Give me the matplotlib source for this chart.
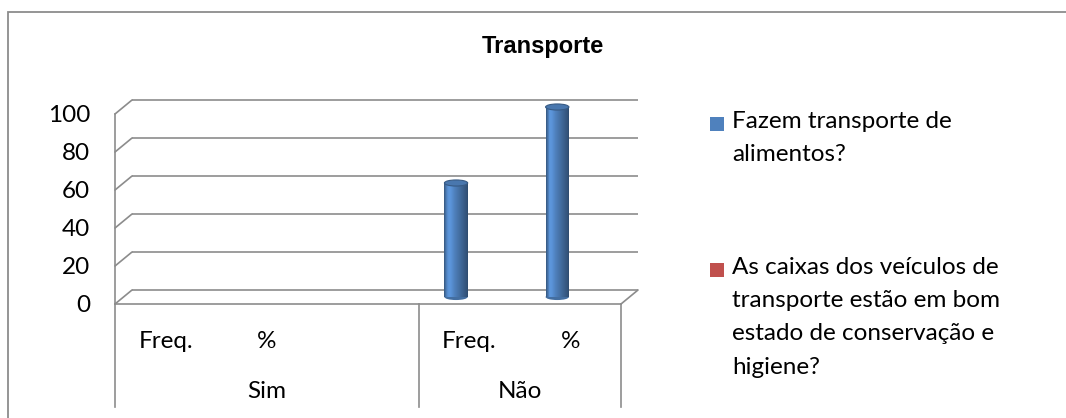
import matplotlib
matplotlib.use("Agg")
import matplotlib.pyplot as plt
from matplotlib.transforms import ScaledTranslation
from matplotlib.patches import Rectangle, Ellipse, ConnectionPatch
import numpy as np

# ---- data ----
title = "Transporte"
categories = ["Freq.", "%", "", "Freq.", "%"]
groups = ["Sim", "Não"]
group_spans = [(0, 3), (3, 5)]
series_names = ["Fazem transporte de\nalimentos?",
                "As caixas dos veículos de\ntransporte estão em bom\nestado de conservação e\nhigiene?"]
series_blue = [0, 0, 0, 60, 100]
series_red = [0, 0, 0, 0, 0]
yticks = [0, 20, 40, 60, 80, 100]

colors = ["#4F81BD", "#C0504D"]
grid_c = "#8C8C8C"
font = ["Lato", "DejaVu Sans"]
plt.rcParams["font.family"] = font
fs = 17.5

W, H = 1066, 418
fig = plt.figure(figsize=(W / 100, H / 100), dpi=100)

# outer chart border (extends past right/bottom)
fig.patches.append(Rectangle((8 / W, -0.1), 1.2, (H - 12) / H + 0.1,
                             transform=fig.transFigure, fill=False,
                             edgecolor=grid_c, lw=1.3))

ax = fig.add_axes([115 / W, (H - 304) / H, 506 / W, 190 / H])
ax.set_xlim(0, len(categories))
ax.set_ylim(0, 100)
for s in ax.spines.values():
    s.set_visible(False)
ax.set_xticks([])
ax.set_yticks(yticks)
ax.set_yticklabels([str(v) for v in yticks])
ax.tick_params(axis="y", length=0, pad=18, labelsize=fs)
ax.patch.set_alpha(0)

back = ax.transData + ScaledTranslation(0.17, 0.14, fig.dpi_scale_trans)
mid = ax.transData + ScaledTranslation(0.0, 0.07, fig.dpi_scale_trans)

lw = 1.2
n = len(categories)
# back wall gridlines + left side diagonals
for v in yticks:
    ax.plot([0, n], [v, v], color=grid_c, lw=lw, transform=back, clip_on=False,
            solid_capstyle="butt")
    cp = ConnectionPatch((0, v), (0, v), coordsA=ax.transData, coordsB=back,
                         color=grid_c, lw=lw)
    fig.add_artist(cp)
# front left vertical axis
ax.plot([0, 0], [0, 100], color=grid_c, lw=lw, clip_on=False)
# floor front edge and right diagonal
ax.plot([0, n], [0, 0], color=grid_c, lw=lw, clip_on=False)
fig.add_artist(ConnectionPatch((n, 0), (n, 0), coordsA=ax.transData, coordsB=back,
                               color=grid_c, lw=lw))

# category table
xt = ax.get_xaxis_transform()
bottom_y = (H - 407 - 114) / 190
for xb in [0, group_spans[0][1], n]:
    ax.plot([xb, xb], [0, bottom_y], color=grid_c, lw=lw, transform=xt, clip_on=False)
row1_y = (H - 341 - 114) / 190
row2_y = (H - 391 - 114) / 190
for i, c in enumerate(categories):
    if c:
        ax.text(i + 0.5, row1_y, c, transform=xt, ha="center", va="center",
                fontsize=fs, color="black")
for g, (a, b) in zip(groups, group_spans):
    ax.text((a + b) / 2, row2_y, g, transform=xt, ha="center", va="center",
            fontsize=fs, color="black")

# cylinders
bar_w = 0.23
offset = -0.13
nstrip = 24
shade = np.array([0.72, 0.85, 0.98, 1.08, 1.14, 1.16, 1.15, 1.12, 1.08, 1.04, 1.0, 0.97,
                  0.94, 0.91, 0.88, 0.85, 0.82, 0.79, 0.76, 0.73, 0.70, 0.67, 0.64, 0.60])
base_rgb = np.array(matplotlib.colors.to_rgb(colors[0]))
ell_h = 3.2
for i, v in enumerate(series_blue):
    if v <= 0:
        continue
    xc = i + 0.5 + offset
    x0 = xc - bar_w / 2
    ax.add_patch(Ellipse((xc, 0), bar_w, ell_h, transform=mid, facecolor=base_rgb * 0.85,
                         edgecolor="none", zorder=3, clip_on=False))
    sw = bar_w / nstrip
    for k in range(nstrip):
        col = np.clip(base_rgb * shade[k], 0, 1)
        ax.bar(x0 + k * sw, v, width=sw * 1.05, align="edge", color=col, transform=mid,
               zorder=4, clip_on=False, linewidth=0)
    ax.add_patch(Ellipse((xc, v), bar_w, ell_h, transform=mid,
                         facecolor=np.clip(base_rgb * 0.92, 0, 1),
                         edgecolor=np.clip(base_rgb * 0.7, 0, 1), lw=0.8, zorder=5,
                         clip_on=False))

# legend (manual, Excel-like)
leg_x = 710 / W
tx = 732 / W
entries_y = [124, 270]
for name, col, yy in zip(series_names, colors, entries_y):
    fig.patches.append(Rectangle((leg_x, (H - yy - 7) / H), 14 / W, 14 / H,
                                 transform=fig.transFigure, facecolor=col,
                                 edgecolor="none"))
    fig.text(tx, (H - yy + 13) / H, name, ha="left", va="top", fontsize=fs,
             linespacing=1.72, color="black")

fig.text(543 / W, (H - 47) / H, title, ha="center", va="center", fontsize=17,
         fontweight="bold", family="Liberation Sans")

fig.savefig("out.png", dpi=100)
